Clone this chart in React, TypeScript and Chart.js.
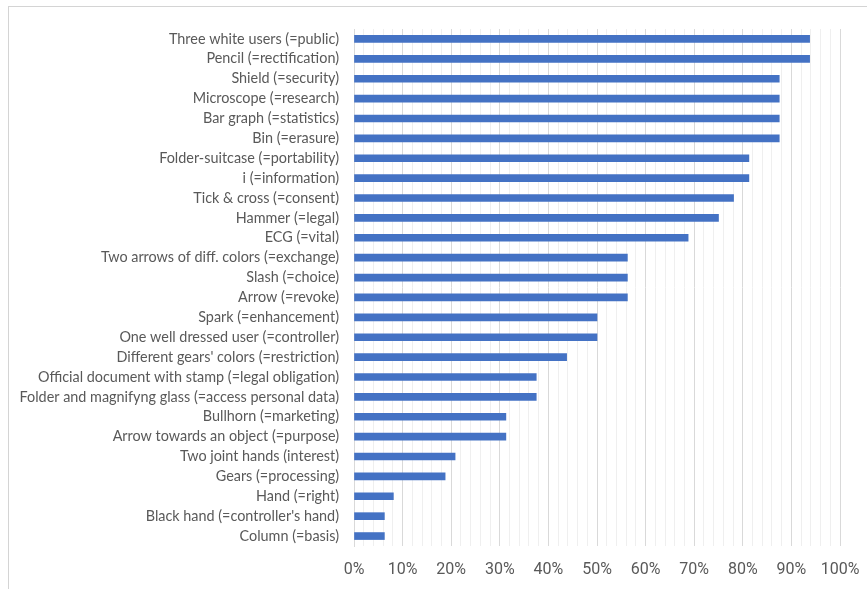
import React, { useEffect, useRef } from "react";
import { Chart, registerables } from "chart.js";

Chart.register(...registerables);

const categories: string[] = [
  "Three white users (=public)",
  "Pencil (=rectification)",
  "Shield (=security)",
  "Microscope (=research)",
  "Bar graph (=statistics)",
  "Bin (=erasure)",
  "Folder-suitcase (=portability)",
  "i (=information)",
  "Tick & cross (=consent)",
  "Hammer (=legal)",
  "ECG (=vital)",
  "Two arrows of diff. colors (=exchange)",
  "Slash (=choice)",
  "Arrow (=revoke)",
  "Spark (=enhancement)",
  "One well dressed user (=controller)",
  "Different gears' colors (=restriction)",
  "Official document with stamp (=legal obligation)",
  "Folder and magnifyng glass (=access personal data)",
  "Bullhorn (=marketing)",
  "Arrow towards an object (=purpose)",
  "Two joint hands (interest)",
  "Gears (=processing)",
  "Hand (=right)",
  "Black hand (=controller's hand)",
  "Column (=basis)",
];

const percentages: number[] = [
  93.75, 93.75, 87.5, 87.5, 87.5, 87.5, 81.25, 81.25, 78.1, 75, 68.75,
  56.25, 56.25, 56.25, 50, 50, 43.75, 37.5, 37.5, 31.25, 31.25, 20.8,
  18.75, 8.1, 6.25, 6.25,
];

const axisMin = 0;
const axisMax = 100;
const minorStep = 2;
const majorStep = 10;

export default function App() {
  const canvasRef = useRef<HTMLCanvasElement | null>(null);

  useEffect(() => {
    const canvas = canvasRef.current;
    if (!canvas) return;
    const chart = new Chart(canvas, {
      type: "bar",
      data: {
        labels: categories,
        datasets: [
          {
            data: percentages,
            backgroundColor: "#4472C4",
            borderWidth: 0,
            barThickness: 7,
          },
        ],
      },
      options: {
        indexAxis: "y",
        animation: false,
        responsive: false,
        maintainAspectRatio: false,
        layout: { padding: { left: 0, right: 27, top: 29, bottom: 0 } },
        plugins: {
          legend: { display: false },
          tooltip: { enabled: false },
        },
        scales: {
          x: {
            min: axisMin,
            max: axisMax,
            afterFit: (scale: any) => {
              scale.height = 43;
              scale.paddingRight = 0;
              scale.paddingLeft = 0;
            },
            border: { display: false },
            grid: {
              drawTicks: false,
              color: (ctx: any) =>
                ctx.tick && ctx.tick.value % majorStep === 0 ? "#d9d9d9" : "#efefef",
              lineWidth: 1,
            },
            ticks: {
              stepSize: minorStep,
              autoSkip: false,
              maxRotation: 0,
              padding: 14,
              color: "#595959",
              font: { family: "Roboto", size: 16 },
              callback: (v: any) => (Number(v) % majorStep === 0 ? `${v}%` : ""),
            },
          },
          y: {
            afterFit: (scale: any) => {
              scale.width = 354;
            },
            border: { display: true, color: "#d9d9d9" },
            grid: { display: false, drawTicks: false },
            ticks: {
              padding: 15,
              color: "#595959",
              font: { family: "Lato", size: 14.4 },
              autoSkip: false,
            },
          },
        },
      },
    } as any);
    return () => chart.destroy();
  }, []);

  return (
    <div
      style={{
        position: "absolute",
        left: 0,
        top: 0,
        width: 867,
        height: 589,
        overflow: "hidden",
        background: "#fff",
      }}
    >
      <div
        style={{
          position: "absolute",
          left: 8,
          top: 6,
          width: 950,
          height: 700,
          border: "1px solid #d4d4d4",
          boxSizing: "border-box",
        }}
      />
      <canvas
        ref={canvasRef}
        width={867}
        height={589}
        style={{ position: "absolute", left: 0, top: 0, width: 867, height: 589 }}
      />
    </div>
  );
}
